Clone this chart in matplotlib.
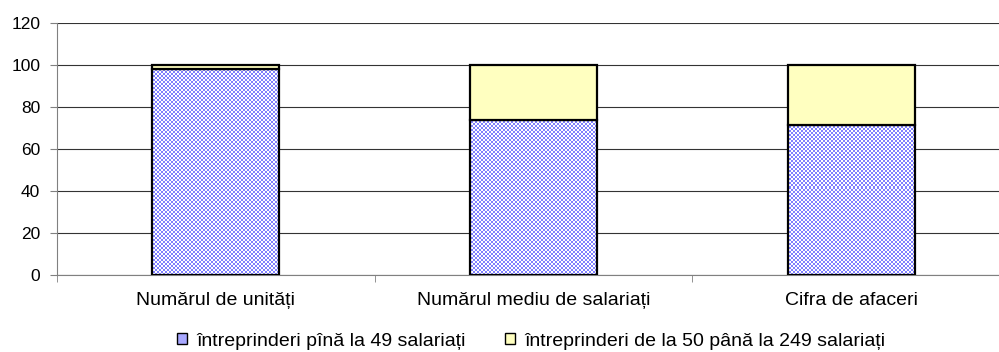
import numpy as np
import matplotlib
matplotlib.use("Agg")
import matplotlib.pyplot as plt
from matplotlib.patches import Patch
from matplotlib.colors import ListedColormap

plt.rcParams['font.family'] = ['Liberation Sans', 'DejaVu Sans']

categories = ["Numărul de unități", "Numărul mediu de salariați", "Cifra de afaceri"]
small = [98.0, 73.6, 71.5]
medium = [2.0, 26.4, 28.5]
series_names = ["întreprinderi pînă la 49 salariați",
                "întreprinderi de la 50 până la 249 salariați"]
yticks = [0, 20, 40, 60, 80, 100, 120]

W, H = 999, 352
fig = plt.figure(figsize=(W / 100, H / 100), dpi=100)
ax = fig.add_axes([57 / W, 77 / H, (1010 - 57) / W, 252 / H])

x = np.arange(len(categories))
width = 0.4
blue = "#8080ff"
yellow = "#ffffc0"

ax.set_xlim(-0.5, 2.5)
ax.set_ylim(0, 120)

# Checkerboard texture for the lower series (2 px cells)
ny, nx = 126, 477
checker = (np.add.outer(np.arange(ny), np.arange(nx)) % 2).astype(float)
cmap = ListedColormap([blue, "#ffffff"])

bars_small = ax.bar(x, small, width, color=blue, edgecolor="none", zorder=3)
for b in bars_small:
    im = ax.imshow(checker, cmap=cmap, extent=(-0.5, 2.5, 0, 120),
                   interpolation="nearest", interpolation_stage="rgba",
                   aspect="auto", zorder=3.5)
    im.set_clip_path(b)
ax.bar(x, small, width, color="none", edgecolor="black", linewidth=1.6, zorder=4)
ax.bar(x, medium, width, bottom=small, color=yellow, edgecolor="black",
       linewidth=1.6, zorder=4)

ax.set_xlim(-0.5, 2.5)
ax.set_ylim(0, 120)

ax.set_yticks(yticks)
ax.yaxis.grid(True, color="#333333", linewidth=0.8)
ax.set_axisbelow(True)
ax.tick_params(axis="y", length=5, color="#808080", labelsize=12.5, pad=7)
ax.set_xticks(x)
ax.set_xticklabels(categories, fontsize=14)
ax.tick_params(axis="x", which="major", length=0, pad=12)
ax.set_xticks([-0.5, 0.5, 1.5, 2.5], minor=True)
ax.tick_params(axis="x", which="minor", length=5, color="#808080")

for s in ["top", "right"]:
    ax.spines[s].set_visible(False)
ax.spines["left"].set_color("#808080")
ax.spines["bottom"].set_color("#808080")

handles = [Patch(facecolor="#a8a8ff", edgecolor="black", linewidth=1.0),
           Patch(facecolor=yellow, edgecolor="black", linewidth=1.0)]
fig.legend(handles, series_names, loc="center", bbox_to_anchor=(531 / W, 1 - 341 / H),
           ncol=2, frameon=False, fontsize=14, handlelength=0.55, handleheight=0.55,
           handletextpad=0.45, columnspacing=2.0)

fig.savefig("out.png", dpi=100)
